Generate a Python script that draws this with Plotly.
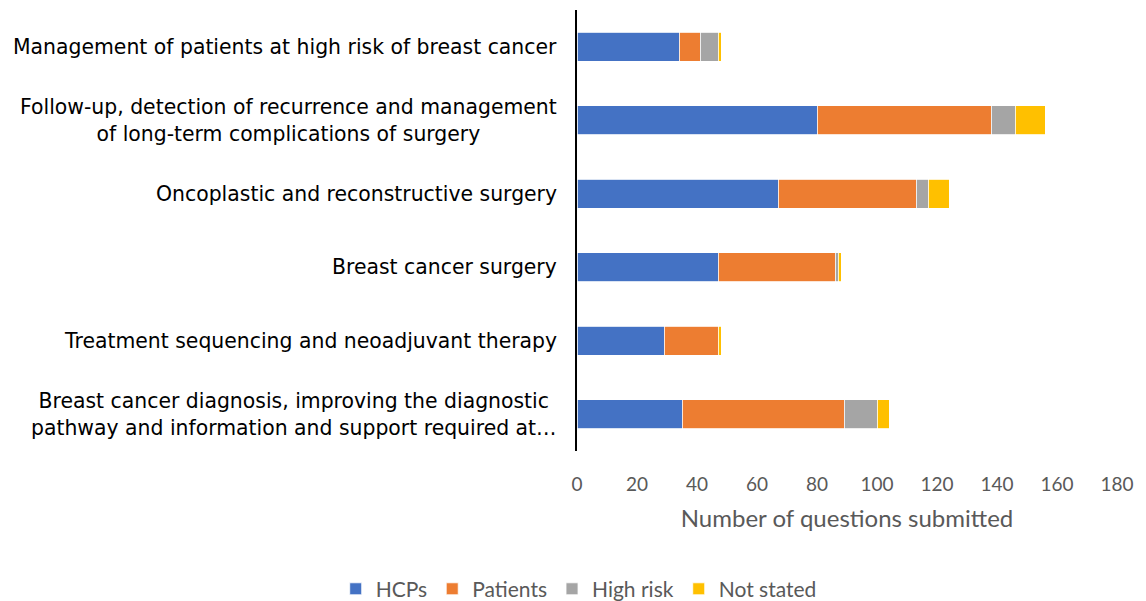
import plotly.graph_objects as go

categories = [
    "Breast cancer diagnosis, improving the diagnostic<br>pathway and information and support required at…",
    "Treatment sequencing and neoadjuvant therapy",
    "Breast cancer surgery",
    "Oncoplastic and reconstructive surgery",
    "Follow-up, detection of recurrence and management<br>of long-term complications of surgery",
    "Management of patients at high risk of breast cancer",
]
hcps = [35, 29, 47, 67, 80, 34]
patients = [54, 18, 39, 46, 58, 7]
high_risk = [11, 0, 1, 4, 8, 6]
not_stated = [4, 1, 1, 7, 10, 1]
series_names = ["HCPs", "Patients", "High risk", "Not stated"]
colors = ["#4472C4", "#ED7D31", "#A5A5A5", "#FFC000"]
x_ticks = [0, 20, 40, 60, 80, 100, 120, 140, 160, 180]

fig = go.Figure()
for name, vals, col in zip(series_names, [hcps, patients, high_risk, not_stated], colors):
    fig.add_trace(go.Bar(
        y=categories, x=vals, name=name, orientation="h",
        marker=dict(color=col, line=dict(color="white", width=0.8)),
    ))

for c in categories:
    fig.add_annotation(
        xref="paper", x=0, y=c, yref="y", xanchor="right", xshift=-18,
        text=c, showarrow=False, align="center",
        font=dict(family="DejaVu Sans, Liberation Sans, Arial", size=20.4, color="#000000"),
    )

# the page body has an 8px default margin, so the figure is sized to compensate
fig.update_layout(
    barmode="stack",
    bargap=0.6,
    width=1138, height=593,
    margin=dict(l=569, r=29, t=2, b=150),
    plot_bgcolor="white", paper_bgcolor="white",
    font=dict(family="Lato, Open Sans, sans-serif", color="#595959"),
    showlegend=True,
    legend=dict(
        orientation="h", xref="container", yref="container",
        x=0.5015, xanchor="center", y=0.02, yanchor="middle",
        font=dict(size=21, color="#595959"),
        traceorder="normal",
    ),
    xaxis=dict(
        range=[0, 180], tickvals=x_ticks, showgrid=False, zeroline=False,
        showline=False, ticks="outside", ticklen=16, tickcolor="rgba(0,0,0,0)",
        tickfont=dict(size=19, color="#595959"),
        title=dict(text="Number of questions submitted", font=dict(size=24, color="#595959"), standoff=16),
    ),
    yaxis=dict(
        showticklabels=False, showgrid=False, zeroline=False,
        showline=True, linecolor="black", linewidth=2, ticks="",
        categoryorder="array", categoryarray=categories,
    ),
)

fig.write_html("out.html")
